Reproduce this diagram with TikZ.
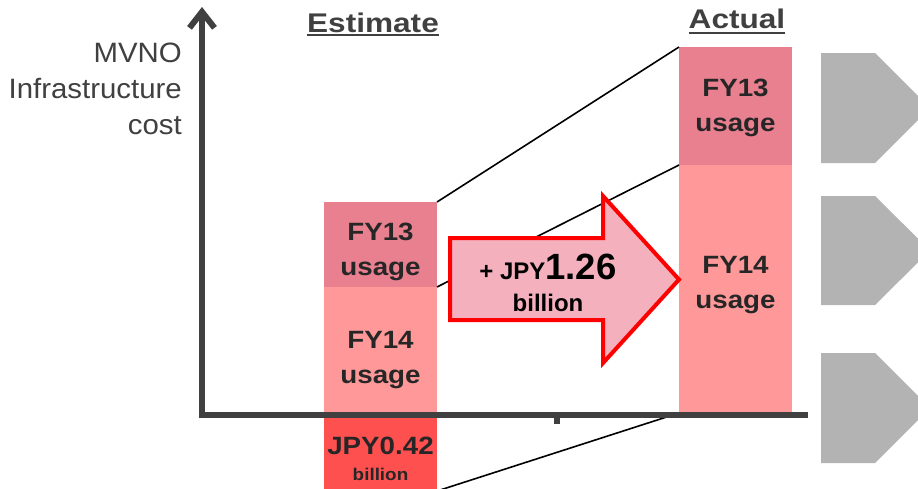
\documentclass[tikz,border=0pt]{standalone}
\usepackage{fontspec}
\setmainfont{Liberation Sans}
\newfontfamily\barfont{Liberation Sans}[FakeStretch=1.11]
\newfontfamily\headfont{Liberation Sans}[FakeStretch=1.17]
\newfontfamily\labelfont{Liberation Sans}[FakeStretch=1.05]
\usetikzlibrary{arrows.meta}
\definecolor{usageold}{HTML}{E8808F}
\definecolor{usagenew}{HTML}{FF9999}
\definecolor{extracost}{HTML}{FF5050}
\definecolor{gainfill}{HTML}{F4B1BD}
\definecolor{axisgrey}{HTML}{404040}
\definecolor{bartext}{HTML}{262626}
\definecolor{chevgrey}{HTML}{B3B3B3}

\begin{document}
\begin{tikzpicture}[x=1pt, y=-1pt,
  bar/.style={minimum width=113pt, inner sep=0pt, outer sep=0pt},
  bartxt/.style={align=center, inner sep=0pt, text=bartext,
    font=\barfont\bfseries\fontsize{25}{35}\selectfont},
  link/.style={black, line width=1.6pt},
  axis/.style={draw=axisgrey, line width=6pt},
  heading/.style={text=axisgrey, inner sep=0pt, font=\headfont\bfseries\fontsize{27}{32}\selectfont},
  headline/.style={axisgrey, line width=2pt},
  chevron/.style={fill=chevgrey}]
\useasboundingbox (0,0) rectangle (918,488);
\clip (0,0) rectangle (918,488);

% bars
\node[bar, fill=usageold, minimum height=85pt] (e13) at (380.5,244.5) {};
\node[bar, fill=usagenew, minimum height=126pt] (e14) at (380.5,350) {};
\node[bar, fill=extracost, minimum height=78pt] (e42) at (380.5,452) {};
\node[bar, fill=usageold, minimum height=118pt] (a13) at (735.5,106) {};
\node[bar, fill=usagenew, minimum height=248pt] (a14) at (735.5,289) {};

\node[bartxt] (e13t) at ([yshift=-7pt]e13) {FY13\\usage};
\node[bartxt] (e14t) at ([yshift=-10pt]e14) {FY14\\usage};
\node[bartxt] (e42t) at ([yshift=-7pt]e42) {JPY0.42\\[-9pt]{\fontsize{17}{20}\selectfont billion}};
\node[bartxt] (a13t) at ([yshift=-2pt]a13) {FY13\\usage};
\node[bartxt] (a14t) at ([yshift=4pt]a14) {FY14\\usage};

% links between the bars
\draw[link] (e13.north east) -- (a13.north west);
\draw[link] (e14.north east) -- (a14.north west);
\draw[link] (e42.south east) -- (a14.south west);

% the increase
\filldraw[red, line width=4pt, fill=gainfill]
  (450,238) -- (603,238) -- (603,196) -- (679,279.5) -- (603,363) -- (603,320) -- (450,320) -- cycle;
\node[align=center, text=black, font=\bfseries\fontsize{36.5}{32}\selectfont] (gain) at (548,283)
  {{\fontsize{24}{28}\selectfont + JPY}1.26\\{\fontsize{24}{28}\selectfont billion}};

% axes
\coordinate (origin) at (199,415);
\coordinate (ytop) at (202,7);
\coordinate (xend) at (808,415);
\coordinate (tick) at (557,415);
\draw[axis, -{Straight Barb[length=16pt, width=25pt]}] (202,418) -- (ytop);
\draw[axis] (origin) -- (xend);
\draw[axis] (tick) -- ++(0,9);

\node[align=right, anchor=east, text=axisgrey, inner sep=0pt,
  font=\labelfont\fontsize{28}{36}\selectfont] (ylabel) at (182,89) {MVNO\\Infrastructure\\cost};

\node[heading, anchor=base] (est) at (373,32.5) {Estimate};
\draw[headline] ([yshift=-2.5pt]est.base west) -- ([yshift=-2.5pt]est.base east);
\node[heading, anchor=base] (act) at (737,28) {Actual};
\draw[headline] ([yshift=-4.5pt]act.base west) -- ([yshift=-4.5pt]act.base east);

% grey arrows on the right
\fill[chevron] (821,53) -- (875,53) -- (930,108) -- (875,163) -- (821,163) -- cycle;
\fill[chevron] (821,196) -- (875,196) -- (930,250.5) -- (875,305) -- (821,305) -- cycle;
\fill[chevron] (821,353) -- (875,353) -- (930,408) -- (875,463) -- (821,463) -- cycle;

\end{tikzpicture}
\end{document}
